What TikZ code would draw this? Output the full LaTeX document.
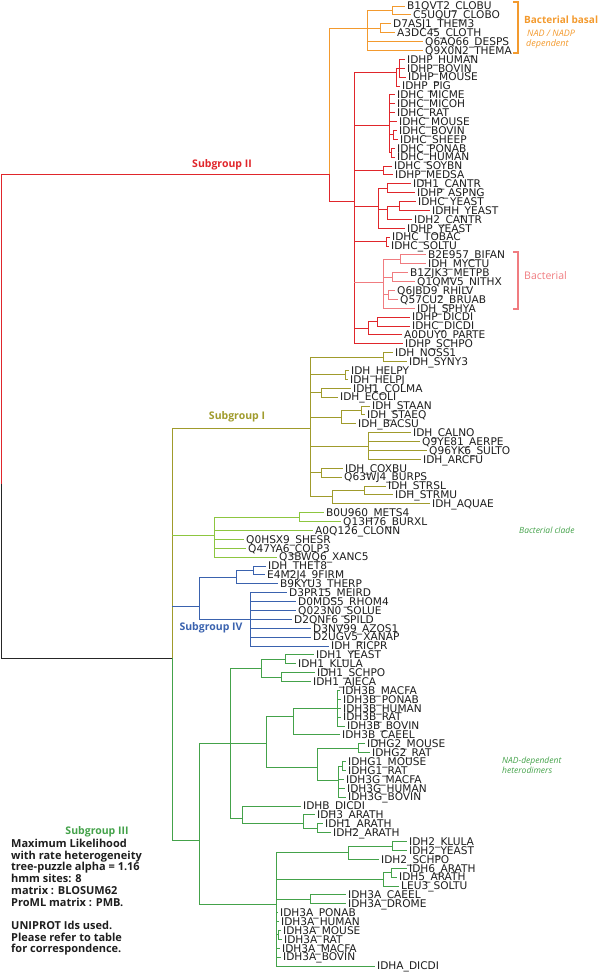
\documentclass[tikz,border=0pt]{standalone}
\usepackage{fontspec}
\setmainfont{DejaVu Sans}
\newfontfamily\labelfont{Open Sans}
\definecolor{tOrange}{HTML}{F39A2E}
\definecolor{tRed}{HTML}{E0262B}
\definecolor{tPink}{HTML}{F07C80}
\definecolor{tOlive}{HTML}{A09B2C}
\definecolor{tLime}{HTML}{8DC640}
\definecolor{tBlue}{HTML}{3A62AE}
\definecolor{tGreen}{HTML}{44A24A}
\definecolor{tInk}{HTML}{1E1E1E}
\newcommand{\idtext}[1]{\expandafter\detokenize\expandafter{#1}}

\begin{document}
\begin{tikzpicture}[x=1pt, y=-1pt,
  leaf/.style={anchor=west, inner xsep=2pt, inner ysep=0pt, text=tInk,
    text height=7.6pt, text depth=0pt, font=\fontsize{10.6}{11}\selectfont},
  br/.style={draw=#1, line width=0.9pt},
  grp/.style={font=\labelfont\bfseries\fontsize{10.5}{12}\selectfont, text=#1},
  note/.style={font=\labelfont\itshape\fontsize{8.5}{10}\selectfont, text=#1,
    anchor=west, inner sep=0pt},
  bracket/.style={draw=#1, line width=2.2pt}
]
\useasboundingbox (0,0) rectangle (600,972);

% leaves, top to bottom
\foreach \nm/\tx [count=\i] in {
  B1QVT2_CLOBU/407, C5UQU7_CLOBO/413, D7ASJ1_THEM3/393, A3DC45_CLOTH/397,
  Q6AQ66_DESPS/425, Q9X0N2_THEMA/425,
  IDHP_HUMAN/407, IDHP_BOVIN/407, IDHP_MOUSE/408, IDHP_PIG/402,
  IDHC_MICME/397, IDHC_MICOH/397, IDHC_RAT/397, IDHC_MOUSE/399,
  IDHC_BOVIN/399, IDHC_SHEEP/400, IDHC_PONAB/397, IDHC_HUMAN/397,
  IDHC_SOYBN/394, IDHP_MEDSA/395, IDH1_CANTR/413, IDHP_ASPNG/417,
  IDHC_YEAST/418, IDHH_YEAST/432, IDH2_CANTR/414, IDHP_YEAST/407,
  IDHC_TOBAC/392, IDHC_SOLTU/391, B2E957_BIFAN/428, IDH_MYCTU/428,
  B1ZJK3_METPB/410, Q1QMV5_NITHX/417, Q6JBD9_RHILV/397, Q57CU2_BRUAB/400,
  IDH_SPHYA/417, IDHP_DICDI/412, IDHC_DICDI/412, A0DUY0_PARTE/404,
  IDHP_SCHPO/405,
  IDH_NOSS1/395, IDH_SYNY3/409, IDH_HELPY/351, IDH_HELPJ/350,
  IDH1_COLMA/353, IDH_ECOLI/340, IDH_STAAN/372, IDH_STAEQ/367,
  IDH_BACSU/358, IDH_CALNO/413, Q9YE81_AERPE/422, Q96YK6_SULTO/429,
  IDH_ARCFU/423, IDH_COXBU/345, Q63WJ4_BURPS/344, IDH_STRSL/388,
  IDH_STRMU/395, IDH_AQUAE/432,
  B0U960_METS4/326, Q13H76_BURXL/343, A0Q126_CLONN/315, Q0HSX9_SHESR/246,
  Q47YA6_COLP3/248, Q3BWQ6_XANC5/279,
  IDH_THET8/268, E4M2J4_9FIRM/267, B9KYU3_THERP/280, D3PR15_MEIRD/289,
  D0MDS5_RHOM4/298, Q023N0_SOLUE/298, D2QNF6_SPILD/294, D3NV99_AZOS1/313,
  D2UGV5_XANAP/313, IDH_RICPR/331,
  IDH1_YEAST/316, IDH1_KLULA/298, IDH1_SCHPO/317, IDH1_AJECA/313,
  IDH3B_MACFA/342, IDH3B_PONAB/343, IDH3B_HUMAN/343, IDH3B_RAT/343,
  IDH3B_BOVIN/347, IDH3B_CAEEL/342, IDHG2_MOUSE/367, IDHG2_RAT/372,
  IDHG1_MOUSE/348, IDHG1_RAT/348, IDH3G_MACFA/346, IDH3G_HUMAN/347,
  IDH3G_BOVIN/348, IDHB_DICDI/303, IDH3_ARATH/317, IDH1_ARATH/325,
  IDH2_ARATH/333, IDH2_KLULA/409, IDH2_YEAST/409, IDH2_SCHPO/381,
  IDH6_ARATH/409, IDH5_ARATH/399, LEU3_SOLTU/401, IDH3A_CAEEL/348,
  IDH3A_DROME/348, IDH3A_PONAB/280, IDH3A_HUMAN/281, IDH3A_MOUSE/283,
  IDH3A_RAT/284, IDH3A_MACFA/282, IDH3A_BOVIN/283, IDHA_DICDI/377}
  \node[leaf] (\nm) at ({\tx-2},{6+(\i-1)*8.889}) {\idtext{\nm}};

% inner nodes
\coordinate (o1) at (392,10.5);
\coordinate (o2) at (380,28);
\coordinate (o0) at (367,28);
\coordinate (s2) at (329,174);
\coordinate (p1) at (399,68.2);
\coordinate (p0) at (396,72);
\coordinate (c1) at (393,134.9);
\coordinate (c2) at (391,152.6);
\coordinate (c0) at (389,125);
\coordinate (sm) at (383,170.4);
\coordinate (y1) at (387,188.2);
\coordinate (y3) at (399,206);
\coordinate (y2) at (387,209);
\coordinate (y0) at (378,206);
\coordinate (ts) at (386,241.5);
\coordinate (b1) at (400,259.3);
\coordinate (b2) at (392,277.1);
\coordinate (b3) at (388,294.9);
\coordinate (b0) at (383,282);
\coordinate (d1) at (377,321.5);
\coordinate (d0) at (368,328);
\coordinate (r0) at (354,201);
\coordinate (i1) at (383,357.1);
\coordinate (i2) at (345,374.9);
\coordinate (i3) at (321,392.6);
\coordinate (i4a) at (361,410.4);
\coordinate (i4) at (341,417);
\coordinate (i5) at (368,446);
\coordinate (i6) at (321,472.6);
\coordinate (i7a) at (364,490.4);
\coordinate (i7) at (332,496);
\coordinate (s1) at (310,428);
\coordinate (g1) at (299,517.1);
\coordinate (bc) at (214,535);
\coordinate (t1) at (253,570.4);
\coordinate (t0) at (236,577);
\coordinate (m0) at (250,619);
\coordinate (s4) at (199,606);
\coordinate (k1) at (285,659.3);
\coordinate (k2) at (281,677.1);
\coordinate (k0) at (261,668);
\coordinate (hb) at (337,708.2);
\coordinate (hb0) at (293,716);
\coordinate (hg2) at (358,748.2);
\coordinate (hg1a) at (342,766);
\coordinate (hg1) at (338,780);
\coordinate (hg0) at (317,767);
\coordinate (h0) at (266,743);
\coordinate (ka) at (317,828.2);
\coordinate (kb) at (303,823);
\coordinate (kd) at (242,818);
\coordinate (gA) at (230,743);
\coordinate (q1) at (392,846);
\coordinate (q0) at (348,852);
\coordinate (q3) at (391,872.6);
\coordinate (q2) at (383,879);
\coordinate (q4) at (310,899.3);
\coordinate (q5) at (278,934.9);
\coordinate (gB) at (276,904);
\coordinate (s3) at (199,840);
\coordinate (a0) at (172,658);
\coordinate (rt) at (1,484);

% root
\draw[br=tRed] (rt) |- (s2);
\draw[br=black!85] (rt) |- (a0);

% bacterial basal
\foreach \k in {B1QVT2_CLOBU,C5UQU7_CLOBO} \draw[br=tOrange] (o1) |- (\k);
\foreach \k in {D7ASJ1_THEM3,A3DC45_CLOTH} \draw[br=tOrange] (o2) |- (\k);
\foreach \k in {o1,o2,Q6AQ66_DESPS,Q9X0N2_THEMA} \draw[br=tOrange] (o0) |- (\k);
\draw[br=tOrange] (s2) |- (o0);
\draw[br=tRed] (s2) |- (r0);

% subgroup II
\foreach \k in {IDHP_HUMAN,IDHP_BOVIN,IDHP_MOUSE} \draw[br=tRed] (p1) |- (\k);
\foreach \k in {p1,IDHP_PIG} \draw[br=tRed] (p0) |- (\k);
\foreach \k in {IDHC_BOVIN,IDHC_SHEEP} \draw[br=tRed] (c1) |- (\k);
\foreach \k in {IDHC_PONAB,IDHC_HUMAN} \draw[br=tRed] (c2) |- (\k);
\foreach \k in {IDHC_MICME,IDHC_MICOH,IDHC_RAT,IDHC_MOUSE,c1,c2} \draw[br=tRed] (c0) |- (\k);
\foreach \k in {IDHC_SOYBN,IDHP_MEDSA} \draw[br=tRed] (sm) |- (\k);
\foreach \k in {IDH1_CANTR,IDHP_ASPNG} \draw[br=tRed] (y1) |- (\k);
\foreach \k in {IDHC_YEAST,IDHH_YEAST} \draw[br=tRed] (y3) |- (\k);
\foreach \k in {y3,IDH2_CANTR} \draw[br=tRed] (y2) |- (\k);
\foreach \k in {y1,y2,IDHP_YEAST} \draw[br=tRed] (y0) |- (\k);
\foreach \k in {IDHC_TOBAC,IDHC_SOLTU} \draw[br=tRed] (ts) |- (\k);
\foreach \k in {B2E957_BIFAN,IDH_MYCTU} \draw[br=tPink] (b1) |- (\k);
\foreach \k in {B1ZJK3_METPB,Q1QMV5_NITHX} \draw[br=tPink] (b2) |- (\k);
\foreach \k in {Q6JBD9_RHILV,Q57CU2_BRUAB} \draw[br=tPink] (b3) |- (\k);
\foreach \k in {b1,b2,b3,IDH_SPHYA} \draw[br=tPink] (b0) |- (\k);
\foreach \k in {IDHP_DICDI,IDHC_DICDI} \draw[br=tRed] (d1) |- (\k);
\foreach \k in {d1,A0DUY0_PARTE} \draw[br=tRed] (d0) |- (\k);
\foreach \k in {p0,c0,sm,y0,ts,d0,IDHP_SCHPO} \draw[br=tRed] (r0) |- (\k);
\draw[br=tPink] (r0 |- b0) -- (b0);

% subgroup I
\foreach \k in {IDH_NOSS1,IDH_SYNY3} \draw[br=tOlive] (i1) |- (\k);
\foreach \k in {IDH_HELPY,IDH_HELPJ} \draw[br=tOlive] (i2) |- (\k);
\foreach \k in {IDH1_COLMA,IDH_ECOLI} \draw[br=tOlive] (i3) |- (\k);
\foreach \k in {IDH_STAAN,IDH_STAEQ} \draw[br=tOlive] (i4a) |- (\k);
\foreach \k in {i4a,IDH_BACSU} \draw[br=tOlive] (i4) |- (\k);
\foreach \k in {IDH_CALNO,Q9YE81_AERPE,Q96YK6_SULTO,IDH_ARCFU} \draw[br=tOlive] (i5) |- (\k);
\foreach \k in {IDH_COXBU,Q63WJ4_BURPS} \draw[br=tOlive] (i6) |- (\k);
\foreach \k in {IDH_STRSL,IDH_STRMU} \draw[br=tOlive] (i7a) |- (\k);
\foreach \k in {i7a,IDH_AQUAE} \draw[br=tOlive] (i7) |- (\k);
\foreach \k in {i1,i2,i3,i4,i5,i6,i7} \draw[br=tOlive] (s1) |- (\k);
\draw[br=tOlive] (a0) |- (s1);

% bacterial clade
\foreach \k in {B0U960_METS4,Q13H76_BURXL} \draw[br=tLime] (g1) |- (\k);
\foreach \k in {g1,A0Q126_CLONN,Q0HSX9_SHESR,Q47YA6_COLP3,Q3BWQ6_XANC5} \draw[br=tLime] (bc) |- (\k);
\draw[br=tLime] (a0 |- bc) -- (bc);

% subgroup IV
\foreach \k in {IDH_THET8,E4M2J4_9FIRM} \draw[br=tBlue] (t1) |- (\k);
\foreach \k in {t1,B9KYU3_THERP} \draw[br=tBlue] (t0) |- (\k);
\foreach \k in {D3PR15_MEIRD,D0MDS5_RHOM4,Q023N0_SOLUE,D2QNF6_SPILD,D3NV99_AZOS1,D2UGV5_XANAP,IDH_RICPR} \draw[br=tBlue] (m0) |- (\k);
\foreach \k in {t0,m0} \draw[br=tBlue] (s4) |- (\k);
\draw[br=tBlue] (a0 |- s4) -- (s4);

% subgroup III
\foreach \k in {IDH1_YEAST,IDH1_KLULA} \draw[br=tGreen] (k1) |- (\k);
\foreach \k in {IDH1_SCHPO,IDH1_AJECA} \draw[br=tGreen] (k2) |- (\k);
\foreach \k in {k1,k2} \draw[br=tGreen] (k0) |- (\k);
\foreach \k in {IDH3B_MACFA,IDH3B_PONAB,IDH3B_HUMAN,IDH3B_RAT,IDH3B_BOVIN} \draw[br=tGreen] (hb) |- (\k);
\foreach \k in {hb,IDH3B_CAEEL} \draw[br=tGreen] (hb0) |- (\k);
\foreach \k in {IDHG2_MOUSE,IDHG2_RAT} \draw[br=tGreen] (hg2) |- (\k);
\foreach \k in {IDHG1_MOUSE,IDHG1_RAT} \draw[br=tGreen] (hg1a) |- (\k);
\foreach \k in {hg1a,IDH3G_MACFA,IDH3G_HUMAN,IDH3G_BOVIN} \draw[br=tGreen] (hg1) |- (\k);
\foreach \k in {hg2,hg1} \draw[br=tGreen] (hg0) |- (\k);
\foreach \k in {hb0,hg0} \draw[br=tGreen] (h0) |- (\k);
\foreach \k in {IDH1_ARATH,IDH2_ARATH} \draw[br=tGreen] (ka) |- (\k);
\foreach \k in {IDH3_ARATH,ka} \draw[br=tGreen] (kb) |- (\k);
\foreach \k in {IDHB_DICDI,kb} \draw[br=tGreen] (kd) |- (\k);
\foreach \k in {k0,h0,kd} \draw[br=tGreen] (gA) |- (\k);
\foreach \k in {IDH2_KLULA,IDH2_YEAST} \draw[br=tGreen] (q1) |- (\k);
\foreach \k in {q1,IDH2_SCHPO} \draw[br=tGreen] (q0) |- (\k);
\foreach \k in {IDH6_ARATH,IDH5_ARATH} \draw[br=tGreen] (q3) |- (\k);
\foreach \k in {q3,LEU3_SOLTU} \draw[br=tGreen] (q2) |- (\k);
\foreach \k in {IDH3A_CAEEL,IDH3A_DROME} \draw[br=tGreen] (q4) |- (\k);
\foreach \k in {IDH3A_MOUSE,IDH3A_RAT} \draw[br=tGreen] (q5) |- (\k);
\foreach \k in {q0,q2,q4,IDH3A_PONAB,IDH3A_HUMAN,q5,IDH3A_MACFA,IDH3A_BOVIN,IDHA_DICDI} \draw[br=tGreen] (gB) |- (\k);
\foreach \k in {gA,gB} \draw[br=tGreen] (s3) |- (\k);
\draw[br=tGreen] (a0) |- (s3);

% group labels
\node[grp=tRed] (sgII) at (222,165) {Subgroup II};
\node[grp=tOlive] (sgI) at (237,417) {Subgroup I};
\node[grp=tBlue] (sgIV) at (211,628) {Subgroup IV};
\node[grp=tGreen] (sgIII) at (97,832) {Subgroup III};

% brackets and side notes
\draw[bracket=tOrange] (513,2) -- (518,2) -- (518,53) -- (513,53);
\draw[bracket=tPink] (513,252) -- (518,252) -- (518,309) -- (513,309);
\node[font=\labelfont\bfseries\fontsize{10}{12}\selectfont, text=tOrange, anchor=west, inner sep=0pt] (basal) at (524,20) {Bacterial basal};
\node[note=tOrange, font=\labelfont\itshape\fontsize{9}{10}\selectfont] (nadp) at (527,33) {NAD / NADP};
\node[note=tOrange, font=\labelfont\itshape\fontsize{9}{10}\selectfont] (dep) at (526,44) {dependent};
\node[font=\labelfont\fontsize{10.5}{12}\selectfont, text=tPink, anchor=west, inner sep=0pt] (bact) at (524,276) {Bacterial};
\node[note=tGreen] (bclade) at (519,530) {Bacterial clade};
\node[note=tGreen, align=left] (hetero) at (502,765) {NAD-dependent\\heterodimers};

% method notes
\node[anchor=north west, align=left, inner sep=0pt, text=tInk,
  font=\labelfont\bfseries\fontsize{11}{11.7}\selectfont] (method) at (11,839)
  {Maximum Likelihood\\with rate heterogeneity\\tree-puzzle alpha = 1.16\\hmm sites: 8\\matrix : BLOSUM62\\ProML matrix : PMB.\\[11.7pt]UNIPROT Ids used.\\Please refer to table\\for correspondence.};
\end{tikzpicture}
\end{document}
